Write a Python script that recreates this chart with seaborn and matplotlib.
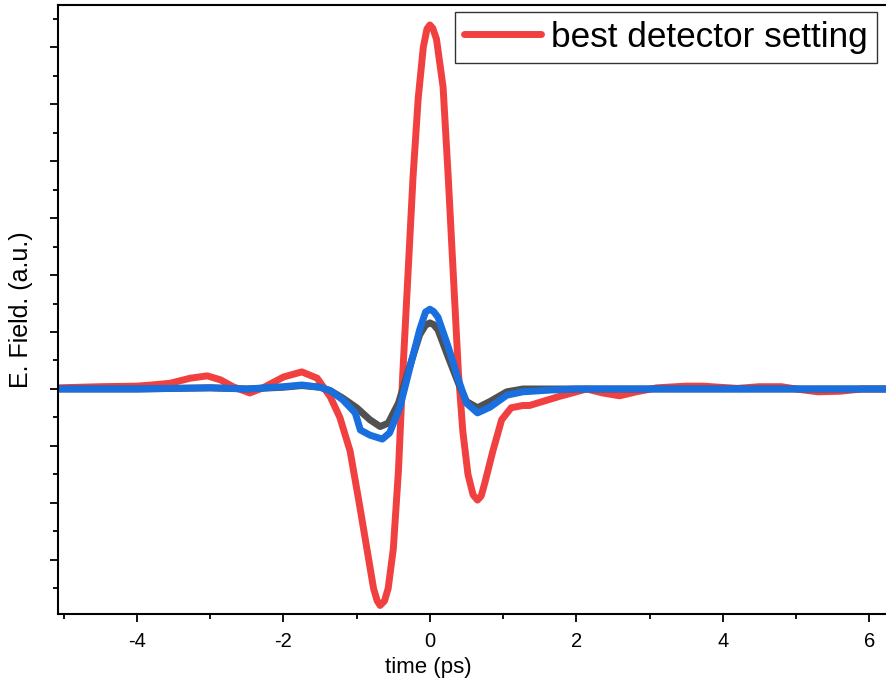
import numpy as np
import pandas as pd
import matplotlib
matplotlib.use("Agg")
import matplotlib.pyplot as plt
import seaborn as sns
from matplotlib.ticker import MultipleLocator

# ---- data ----
t_red = [-5.08, -4.5, -4.0, -3.8, -3.55, -3.27, -3.04, -2.86, -2.69, -2.46, -2.28, -2.0,
         -1.75, -1.54, -1.36, -1.23, -1.09, -0.95, -0.86, -0.77, -0.72, -0.68, -0.62, -0.57, -0.5,
         -0.43, -0.37, -0.30, -0.23, -0.16, -0.09, -0.04, 0.0, 0.04, 0.09, 0.18, 0.25, 0.32, 0.39,
         0.45, 0.52, 0.59, 0.65, 0.70, 0.75, 0.86, 0.98, 1.11, 1.27, 1.36, 1.54, 1.77, 2.0,
         2.14, 2.36, 2.59, 2.82, 3.1, 3.5, 3.73, 3.96, 4.2, 4.5, 4.8, 5.0, 5.3, 5.6,
         5.9, 6.23]
e_red = [0.02, 0.04, 0.05, 0.07, 0.10, 0.19, 0.23, 0.16, 0.04, -0.07, 0.02, 0.21,
         0.30, 0.19, -0.14, -0.50, -1.09, -2.12, -2.81, -3.50, -3.72, -3.80, -3.72, -3.50, -2.81,
         -1.44, 0.28, 2.0, 3.73, 5.1, 6.0, 6.32, 6.39, 6.33, 6.14, 5.3, 3.73, 2.0, 0.28,
         -0.75, -1.50, -1.86, -1.95, -1.88, -1.65, -1.09, -0.54, -0.33, -0.29, -0.29, -0.22, -0.13, -0.05,
         0.0, -0.07, -0.12, -0.05, 0.02, 0.05, 0.05, 0.03, 0.01, 0.04, 0.04, 0.0, -0.05, -0.04,
         0.0, 0.0]

t_gray = [-5.08, -4.0, -3.0, -2.5, -2.0, -1.75, -1.5, -1.36, -1.19, -1.0, -0.82, -0.68,
          -0.57, -0.43, -0.27, -0.14, -0.06, 0.0, 0.05, 0.11, 0.25, 0.39, 0.5, 0.65, 0.82, 1.05,
          1.27, 1.64, 2.0, 3.0, 4.0, 5.0, 6.23]
e_gray = [0.0, 0.0, 0.02, 0.0, 0.03, 0.06, 0.03, -0.03, -0.16, -0.33, -0.54, -0.66,
          -0.60, -0.25, 0.42, 0.95, 1.12, 1.16, 1.13, 1.04, 0.56, 0.10, -0.22, -0.33, -0.22, -0.05,
          0.0, 0.0, 0.0, 0.0, 0.0, 0.0, 0.0]

t_blue = [-5.08, -4.0, -3.0, -2.5, -2.0, -1.75, -1.5, -1.36, -1.19, -1.02, -0.95, -0.82,
          -0.65, -0.55, -0.41, -0.27, -0.14, -0.06, 0.0, 0.05, 0.11, 0.25, 0.39, 0.5, 0.65, 0.82,
          1.05, 1.27, 1.64, 2.0, 3.0, 4.0, 5.0, 6.23]
e_blue = [0.0, 0.0, 0.02, 0.0, 0.04, 0.07, 0.03, -0.03, -0.19, -0.42, -0.72, -0.81,
          -0.88, -0.77, -0.32, 0.39, 1.04, 1.35, 1.40, 1.36, 1.26, 0.74, 0.16, -0.25, -0.42, -0.32,
          -0.11, -0.05, -0.02, 0.0, 0.0, 0.0, 0.0, 0.0]

red_label = "best detector setting"
x_label = "time (ps)"
y_label = "E. Field. (a.u.)"
x_ticks = [-4, -2, 0, 2, 4, 6]

# ---- styling ----
sns.set_theme(style="ticks")
plt.rcParams['font.family'] = ['Liberation Sans', 'DejaVu Sans']

fig = plt.figure(figsize=(8.86, 6.88), dpi=100)
ax = fig.add_axes([58 / 886, 1 - 614 / 688, 1 - 58 / 886, (614 - 5) / 688])

lw = 5.0
sns.lineplot(x=t_red, y=e_red, ax=ax, color="#F14040", lw=lw, sort=False,
             label=red_label, solid_joinstyle="round", solid_capstyle="round")
sns.lineplot(x=t_gray, y=e_gray, ax=ax, color="#515151", lw=lw, sort=False,
             label="_nolegend_", solid_joinstyle="round", solid_capstyle="round")
sns.lineplot(x=t_blue, y=e_blue, ax=ax, color="#1A6FDF", lw=lw, sort=False,
             label="_nolegend_", solid_joinstyle="round", solid_capstyle="round")

ax.set_xlim(-5.08, 6.23)
ax.set_ylim(-3.95, 6.74)
ax.set_xticks(x_ticks)
ax.set_xticklabels([str(v) for v in x_ticks])
ax.xaxis.set_minor_locator(MultipleLocator(1))
ax.yaxis.set_major_locator(MultipleLocator(1))
ax.yaxis.set_minor_locator(MultipleLocator(0.5))
ax.set_yticklabels([])

for s in ["left", "bottom", "top"]:
    ax.spines[s].set_linewidth(1.5)
    ax.spines[s].set_color("black")
ax.spines["right"].set_visible(False)

ax.tick_params(axis="both", which="major", direction="out", length=6, width=1.3,
               color="black", labelsize=14.5, labelcolor="black", pad=7)
ax.tick_params(axis="both", which="minor", direction="out", length=3.5, width=1.3,
               color="black")

ax.set_xlabel(x_label, fontsize=16, color="black")
ax.xaxis.set_label_coords((428 - 58) / 828, (614 - 657) / 609)
ax.set_ylabel(y_label, fontsize=18, color="black")
ax.yaxis.set_label_coords((33 - 58) / 828, 0.5)

leg = ax.legend(loc="upper right", bbox_to_anchor=((877 - 58) / 828, (614 - 12) / 609),
                borderaxespad=0, fontsize=25.3, frameon=True, fancybox=False,
                handlelength=2.2, handletextpad=0.3, borderpad=0.25)
leg.get_frame().set_edgecolor("#333333")
leg.get_frame().set_linewidth(1.0)
leg.get_frame().set_alpha(1)
for txt in leg.get_texts():
    txt.set_color("black")

fig.savefig("out.png", dpi=100)
